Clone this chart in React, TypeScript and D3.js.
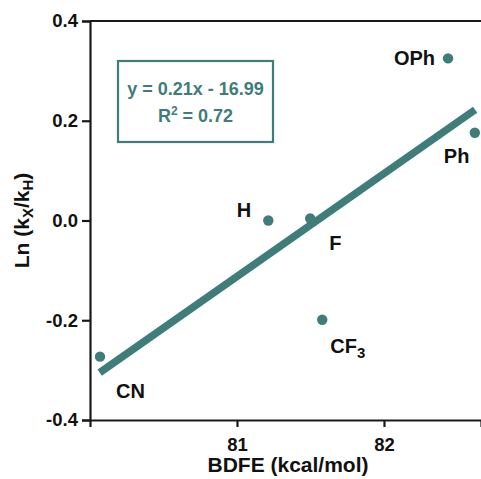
import React, { useEffect, useRef } from "react";
import * as d3 from "d3";

// substituents and their measured values
const labels = ["CN", "H", "F", "CF3", "OPh", "Ph"];
const bdfe = [80.068, 81.213, 81.498, 81.58, 82.436, 82.618];
const lnRatio = [-0.273, 0.0, 0.004, -0.199, 0.325, 0.176];

// drawn fit line, end points
const fitX = [80.066, 82.62];
const fitY = [-0.305, 0.222];

const yTicks = [-0.4, -0.2, 0.0, 0.2, 0.4];
const xTicks = [81, 82];
const eqText = "y = 0.21x - 16.99";
const r2Text = "0.72";

const teal = "#3e7d79";
const font = "'Liberation Sans', Arial, sans-serif";

const App = () => {
  const ref = useRef(null);
  const width = 481;
  const height = 479;
  const margin = { top: 21, right: 0, bottom: 59, left: 90 };

  useEffect(() => {
    const svg = d3.select(ref.current);
    svg.selectAll("*").remove();

    const x = d3
      .scaleLinear()
      .domain([80.0, 82.66])
      .range([margin.left, width - margin.right]);
    const y = d3
      .scaleLinear()
      .domain([-0.4, 0.4])
      .range([height - margin.bottom, margin.top]);

    // top frame line
    svg
      .append("line")
      .attr("x1", margin.left)
      .attr("x2", width)
      .attr("y1", y(0.4))
      .attr("y2", y(0.4))
      .attr("stroke", "#1a1a1a")
      .attr("stroke-width", 2.2);

    const yAxis = svg
      .append("g")
      .attr("transform", `translate(${margin.left},0)`)
      .call(
        d3
          .axisLeft(y)
          .tickValues(yTicks)
          .tickSize(8)
          .tickPadding(4)
          .tickFormat((d) => d.toFixed(1))
      );

    const xAxis = svg
      .append("g")
      .attr("transform", `translate(0,${height - margin.bottom})`)
      .call(
        d3
          .axisBottom(x)
          .tickValues(xTicks)
          .tickSize(7)
          .tickPadding(6)
          .tickFormat((d) => `${d}`)
      );

    [xAxis, yAxis].forEach((g) => {
      g.select(".domain").attr("stroke", "#1a1a1a").attr("stroke-width", 2.2);
      g.selectAll(".tick line").attr("stroke", "#1a1a1a").attr("stroke-width", 2.2);
      g.selectAll(".tick text")
        .attr("font-family", font)
        .attr("font-weight", "bold")
        .attr("font-size", 18.5)
        .attr("fill", "#111");
    });
    xAxis.selectAll(".tick text").attr("dy", "0.95em");

    // axis titles
    svg
      .append("text")
      .attr("x", 288)
      .attr("y", 472)
      .attr("text-anchor", "middle")
      .attr("font-family", font)
      .attr("font-weight", "bold")
      .attr("font-size", 21)
      .attr("fill", "#111")
      .text("BDFE (kcal/mol)");

    const yt = svg
      .append("text")
      .attr("transform", `translate(29,${y(0)}) rotate(-90)`)
      .attr("text-anchor", "middle")
      .attr("font-family", font)
      .attr("font-weight", "bold")
      .attr("font-size", 21)
      .attr("fill", "#111");
    yt.append("tspan").text("Ln (k");
    yt.append("tspan").attr("font-size", 15).attr("dy", 4).text("X");
    yt.append("tspan").attr("dy", -4).text("/k");
    yt.append("tspan").attr("font-size", 15).attr("dy", 4).text("H");
    yt.append("tspan").attr("dy", -4).text(")");

    // fit line
    const line = d3
      .line()
      .x((d) => x(d[0]))
      .y((d) => y(d[1]));
    svg
      .append("path")
      .datum(d3.zip(fitX, fitY))
      .attr("d", line)
      .attr("fill", "none")
      .attr("stroke", teal)
      .attr("stroke-width", 7.5);

    const pts = labels.map((l, i) => ({ label: l, x: bdfe[i], y: lnRatio[i] }));

    svg
      .append("g")
      .selectAll("circle")
      .data(pts)
      .enter()
      .append("circle")
      .attr("cx", (d) => x(d.x))
      .attr("cy", (d) => y(d.y))
      .attr("r", 5.2)
      .attr("fill", teal);

    // label placement relative to each point
    const offsets = {
      CN: [16, 41, "start"],
      H: [-17, -4, "end"],
      F: [19, 31, "start"],
      CF3: [8, 33, "start"],
      OPh: [-13, 7, "end"],
      Ph: [-31, 30, "start"],
    };

    const lab = svg
      .append("g")
      .selectAll("text")
      .data(pts)
      .enter()
      .append("text")
      .attr("x", (d) => x(d.x) + offsets[d.label][0])
      .attr("y", (d) => y(d.y) + offsets[d.label][1])
      .attr("text-anchor", (d) => offsets[d.label][2])
      .attr("font-family", font)
      .attr("font-weight", "bold")
      .attr("font-size", 20)
      .attr("fill", "#111");
    lab.each(function (d) {
      const t = d3.select(this);
      const m = d.label.match(/^([A-Za-z]+)(\d*)$/);
      t.append("tspan").text(m[1]);
      if (m[2]) t.append("tspan").attr("font-size", 15).attr("dy", 5).text(m[2]);
    });

    // equation box
    const bx = 118,
      by = 61,
      bw = 155,
      bh = 81;
    svg
      .append("rect")
      .attr("x", bx)
      .attr("y", by)
      .attr("width", bw)
      .attr("height", bh)
      .attr("fill", "none")
      .attr("stroke", teal)
      .attr("stroke-width", 2.2);
    svg
      .append("text")
      .attr("x", bx + bw / 2)
      .attr("y", 95)
      .attr("text-anchor", "middle")
      .attr("font-family", font)
      .attr("font-weight", "bold")
      .attr("font-size", 18)
      .attr("fill", teal)
      .text(eqText);
    const r2 = svg
      .append("text")
      .attr("x", bx + bw / 2)
      .attr("y", 122)
      .attr("text-anchor", "middle")
      .attr("font-family", font)
      .attr("font-weight", "bold")
      .attr("font-size", 18)
      .attr("fill", teal);
    r2.append("tspan").text("R");
    r2.append("tspan").attr("font-size", 12).attr("dy", -7).text("2");
    r2.append("tspan").attr("dy", 7).text(` = ${r2Text}`);
  }, []);

  return (
    <svg
      ref={ref}
      width={width}
      height={height}
      style={{ position: "absolute", left: 0, top: 0, background: "#fff" }}
    />
  );
};

export default App;
